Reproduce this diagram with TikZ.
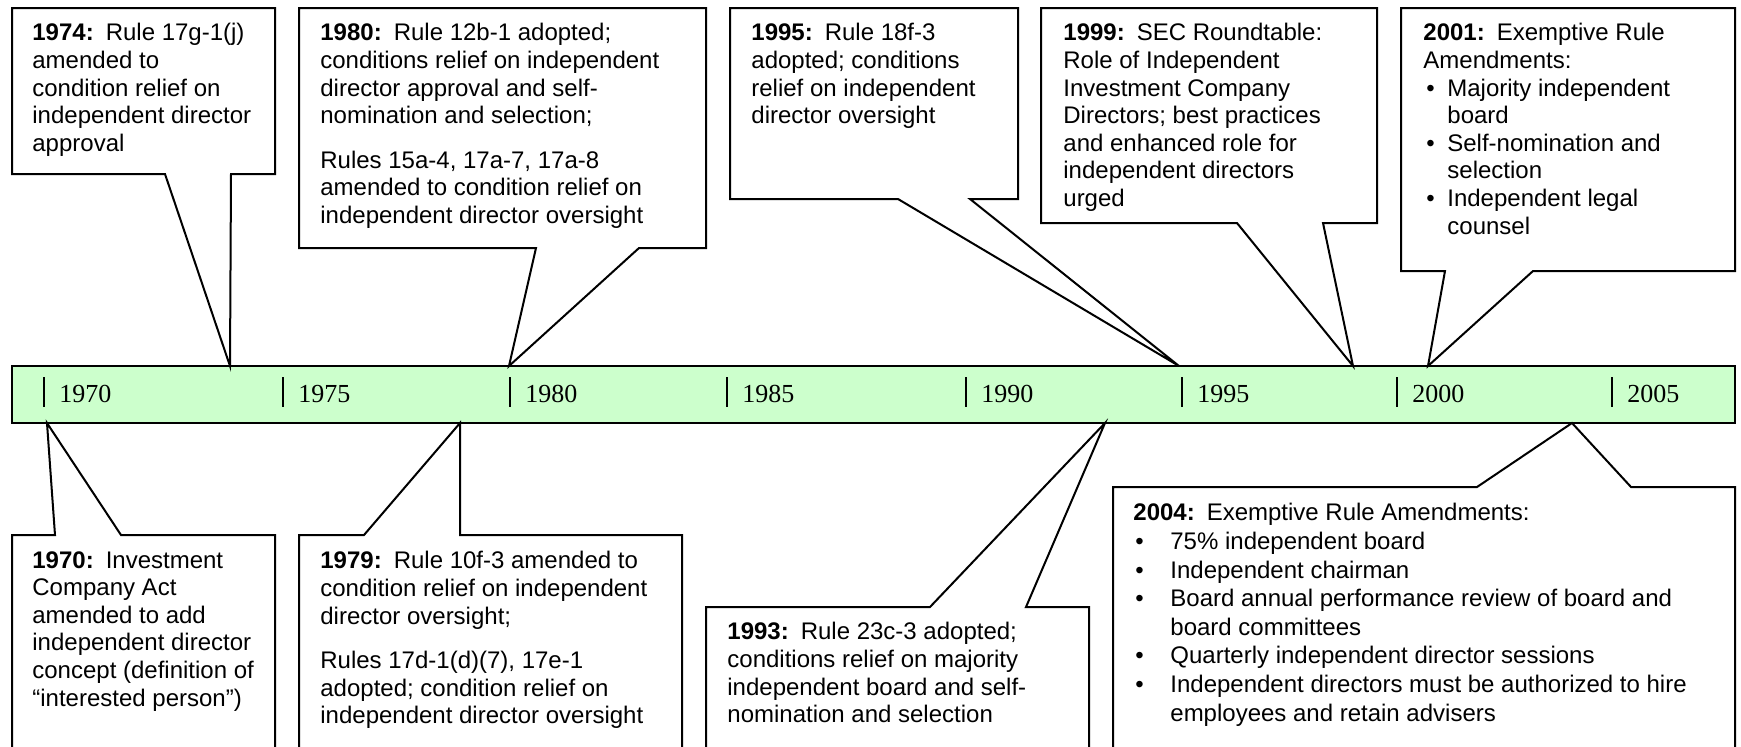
\documentclass[tikz,border=0pt]{standalone}
\usepackage{fontspec}
\setmainfont{Liberation Sans}
\newfontfamily\yearfont{Liberation Serif}
\definecolor{barfill}{HTML}{CCFFCC}
\newcommand{\nbul}{\makebox[12pt][l]{\hspace{1.5pt}\textbullet}}
\newcommand{\wbul}{\makebox[18.5pt][l]{\hspace{1pt}\textbullet}}

\begin{document}
\begin{tikzpicture}[x=0.5pt,y=-0.5pt,
  box/.style={draw,line width=1pt,fill=white},
  txt/.style={anchor=north west,inner sep=0pt,align=left,font=\fontsize{12}{13.8}\selectfont},
  yr/.style={anchor=base west,inner sep=0pt,font=\yearfont\fontsize{13}{15}\selectfont},
  tick/.style={line width=0.9pt}]
\clip (0,0) rectangle (1741,746);
% time line
\draw[line width=1pt,fill=barfill] (12,366) rectangle (1735,423);
\draw[tick] (44,377) -- (44,407);
\draw[tick] (283,377) -- (283,407);
\draw[tick] (510,377) -- (510,407);
\draw[tick] (727,377) -- (727,407);
\draw[tick] (966,377) -- (966,407);
\draw[tick] (1182,377) -- (1182,407);
\draw[tick] (1397,377) -- (1397,407);
\draw[tick] (1612,377) -- (1612,407);
\node[yr] (y1970) at (59,402) {1970};
\node[yr] (y1975) at (298,402) {1975};
\node[yr] (y1980) at (525,402) {1980};
\node[yr] (y1985) at (742,402) {1985};
\node[yr] (y1990) at (981,402) {1990};
\node[yr] (y1995) at (1197,402) {1995};
\node[yr] (y2000) at (1412,402) {2000};
\node[yr] (y2005) at (1627,402) {2005};
% pointer tips on the time line
\coordinate (p1974) at (230,366);
\coordinate (p1980) at (509,366);
\coordinate (p1995) at (1179,366);
\coordinate (p1999) at (1353,366);
\coordinate (p2001) at (1428,366);
\coordinate (p1970) at (47,423);
\coordinate (p1979) at (460,423);
\coordinate (p1993) at (1105,423);
\coordinate (p2004) at (1572,423);
% callouts above
\draw[box] (12,8) -- (275,8) -- (275,174) -- (231,174) -- (p1974) -- (165,174) -- (12,174) -- cycle;
\draw[box] (299,8) -- (706,8) -- (706,248) -- (639,248) -- (p1980) -- (536,248) -- (299,248) -- cycle;
\draw[box] (730,8) -- (1018,8) -- (1018,199) -- (970,199) -- (p1995) -- (898,199) -- (730,199) -- cycle;
\draw[box] (1041,8) -- (1377,8) -- (1377,223) -- (1323,223) -- (p1999) -- (1237,223) -- (1041,223) -- cycle;
\draw[box] (1401,8) -- (1735,8) -- (1735,271) -- (1533,271) -- (p2001) -- (1445,271) -- (1401,271) -- cycle;
\node[txt] (n1974) at (32,23) {\textbf{1974:}\enspace Rule 17g-1(j)\\amended to\\condition relief on\\independent director\\approval};
\node[txt] (n1980) at (320,23) {\textbf{1980:}\enspace Rule 12b-1 adopted;\\conditions relief on independent\\director approval and self-\\nomination and selection;\\[8.5pt]Rules 15a-4, 17a-7, 17a-8\\amended to condition relief on\\independent director oversight};
\node[txt] (n1995) at (751,23) {\textbf{1995:}\enspace Rule 18f-3\\adopted; conditions\\relief on independent\\director oversight};
\node[txt] (n1999) at (1063,23) {\textbf{1999:}\enspace SEC Roundtable:\\Role of Independent\\Investment Company\\Directors; best practices\\and enhanced role for\\independent directors\\urged};
\node[txt] (n2001) at (1423,23) {\textbf{2001:}\enspace Exemptive Rule\\Amendments:\\\nbul Majority independent\\\hspace*{12pt}board\\\nbul Self-nomination and\\\hspace*{12pt}selection\\\nbul Independent legal\\\hspace*{12pt}counsel};
% callouts below
\draw[box] (12,760) -- (12,535) -- (55,535) -- (p1970) -- (121,535) -- (275,535) -- (275,760);
\draw[box] (299,760) -- (299,535) -- (364,535) -- (p1979) -- (460,535) -- (682,535) -- (682,760);
\draw[box] (706,760) -- (706,607) -- (930,607) -- (p1993) -- (1026,607) -- (1089,607) -- (1089,760);
\draw[box] (1113,760) -- (1113,487) -- (1477,487) -- (p2004) -- (1631,487) -- (1735,487) -- (1735,760);
\node[txt] (n1970) at (32,551) {\textbf{1970:}\enspace Investment\\Company Act\\amended to add\\independent director\\concept (definition of\\“interested person”)};
\node[txt] (n1979) at (320,551) {\textbf{1979:}\enspace Rule 10f-3 amended to\\condition relief on independent\\director oversight;\\[8.5pt]Rules 17d-1(d)(7), 17e-1\\adopted; condition relief on\\independent director oversight};
\node[txt] (n1993) at (727,622) {\textbf{1993:}\enspace Rule 23c-3 adopted;\\conditions relief on majority\\independent board and self-\\nomination and selection};
\node[txt,font=\fontsize{12}{14.3}\selectfont] (n2004) at (1133,503) {\textbf{2004:}\enspace Exemptive Rule Amendments:\\\wbul 75\% independent board\\\wbul Independent chairman\\\wbul Board annual performance review of board and\\\hspace*{18.5pt}board committees\\\wbul Quarterly independent director sessions\\\wbul Independent directors must be authorized to hire\\\hspace*{18.5pt}employees and retain advisers};
\end{tikzpicture}
\end{document}
